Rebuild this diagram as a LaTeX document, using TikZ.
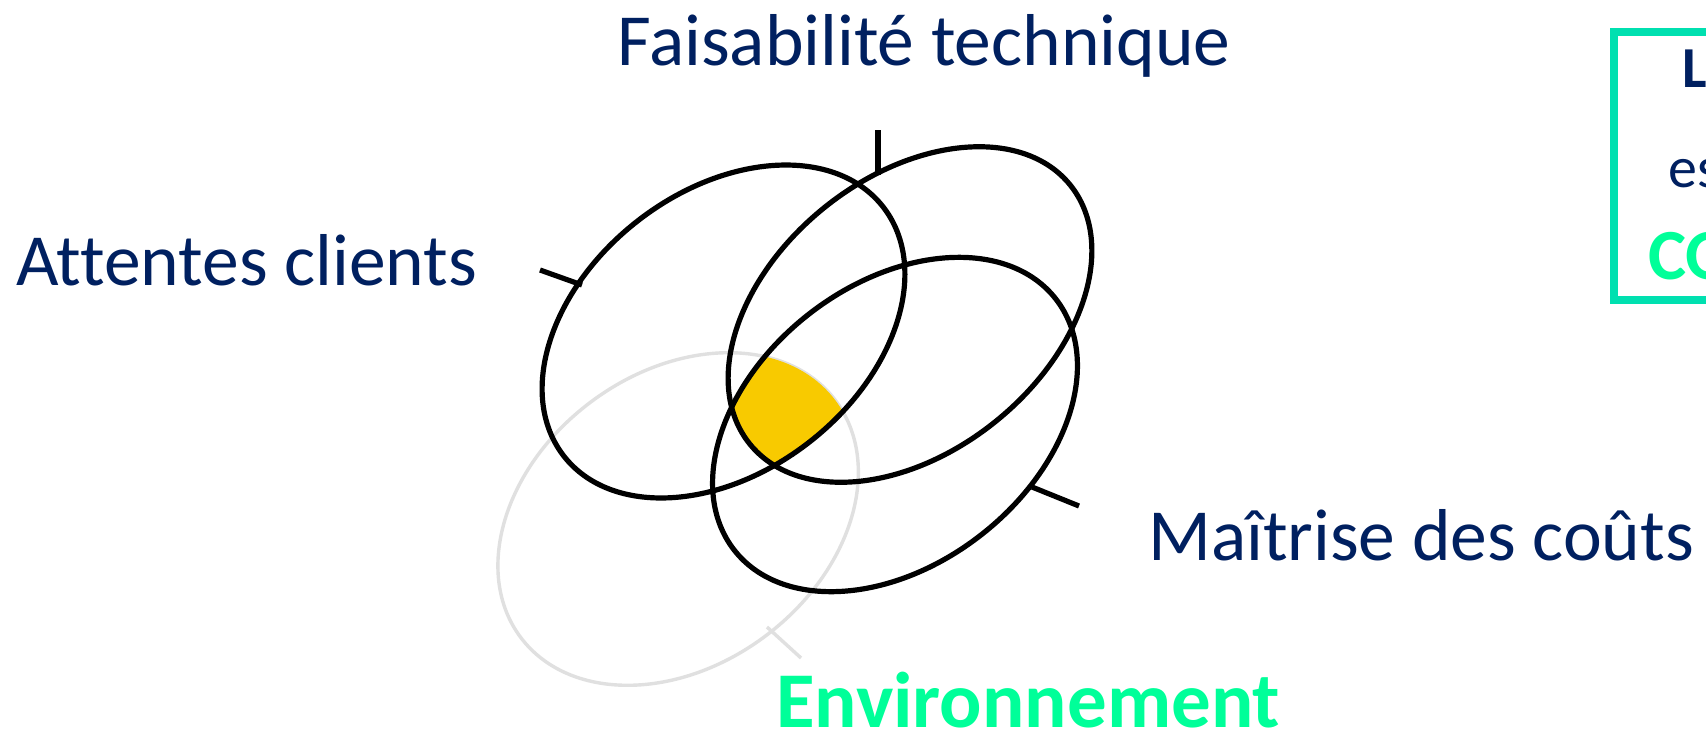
\documentclass[tikz,border=0pt]{standalone}
\usepackage{fontspec}
\setmainfont[Ligatures=NoCommon]{Carlito}
\definecolor{navy}{RGB}{0,32,96}
\definecolor{mint}{RGB}{0,255,153}
\definecolor{boxteal}{RGB}{0,224,176}
\definecolor{goldfill}{RGB}{248,202,0}
\definecolor{lightgr}{RGB}{224,224,224}
\begin{document}
\begin{tikzpicture}[x=1pt,y=-1pt,
  ell/.style={line width=5.2pt, black},
  gell/.style={line width=3.4pt, lightgr},
  lbl/.style={inner sep=0pt, anchor=base west, text=navy, font=\fontsize{73.5}{80}\selectfont},
  envlbl/.style={inner sep=0pt, anchor=base west, text=mint, font=\bfseries\fontsize{79}{85}\selectfont},
  boxtxt/.style={inner sep=0pt, anchor=base west}]
\fill[white] (0,0) rectangle (1706,734);
\useasboundingbox (0,0) rectangle (1706,734);

% centres
\coordinate (c1) at (723.5,331.5);
\coordinate (c2) at (910,314.5);
\coordinate (c3) at (895,424.5);
\coordinate (c4) at (678,519);

% grey ellipse (Environnement)
\draw[gell, rotate around={37:(c4)}] (c4) ellipse [x radius=197, y radius=146];
\coordinate (t4a) at (767,627);
\coordinate (t4b) at (801,658);
\draw[gell] (t4a) -- (t4b);

% yellow intersection
\begin{scope}
\clip[rotate around={38:(c1)}] (c1) ellipse [x radius=202.5, y radius=140];
\clip[rotate around={39:(c2)}] (c2) ellipse [x radius=206, y radius=137];
\clip[rotate around={38:(c3)}] (c3) ellipse [x radius=204, y radius=140];
\clip[rotate around={37:(c4)}] (c4) ellipse [x radius=197, y radius=146];
\fill[goldfill] (600,300) rectangle (950,560);
\end{scope}

% black ellipses
\draw[ell, rotate around={38:(c1)}] (c1) ellipse [x radius=202.5, y radius=140];
\draw[ell, rotate around={39:(c2)}] (c2) ellipse [x radius=206, y radius=137];
\draw[ell, rotate around={38:(c3)}] (c3) ellipse [x radius=204, y radius=140];

% ticks
\coordinate (t1a) at (540,270);
\coordinate (t1b) at (582,285);
\coordinate (t2a) at (878,130);
\coordinate (t2b) at (878,175);
\coordinate (t3a) at (1032,487);
\coordinate (t3b) at (1079,506);
\draw[ell] (t1a) -- (t1b);
\draw[ell] (t2a) -- (t2b);
\draw[ell] (t3a) -- (t3b);

% labels
\node[lbl] (ft) at (617,65) {Faisabilité technique};
\node[lbl] (ac) at (16,285) {Attentes clients};
\node[lbl] (mc) at (1148,560) {Maîtrise des coûts};
\node[envlbl] (env) at (776,727) {Environnement};

% box on the right (cut by the edge)
\draw[line width=7.5pt, boxteal] (1614,32) rectangle (1780,300);
\node[boxtxt, text=navy, font=\bfseries\fontsize{58}{64}\selectfont] (bl) at (1682,87) {L};
\node[boxtxt, text=navy, font=\fontsize{58}{64}\selectfont] (be) at (1668,187) {es};
\node[boxtxt, text=mint, font=\bfseries\fontsize{72}{80}\selectfont] (bc) at (1648,279) {CO};
\end{tikzpicture}
\end{document}
